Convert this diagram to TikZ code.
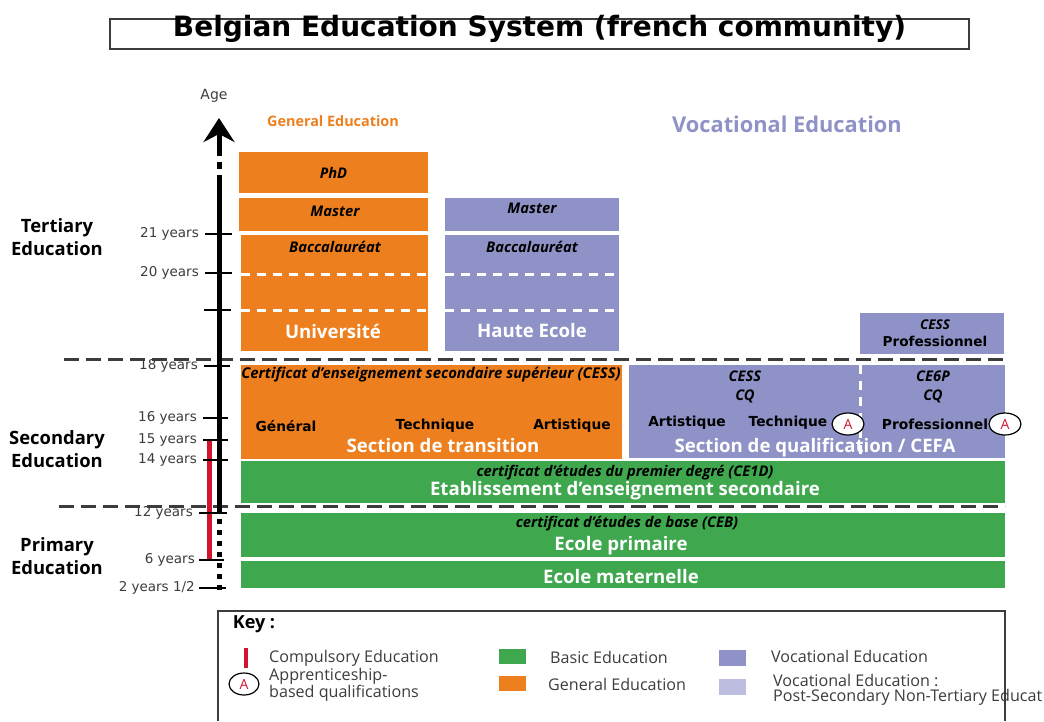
\documentclass[tikz,border=0pt]{standalone}
\usepackage{fontspec}
\setmainfont{Open Sans}
\newfontfamily\widefont{DejaVu Sans}
\usetikzlibrary{arrows.meta,shapes.geometric}

\definecolor{orangeEd}{HTML}{EE7F1E}
\definecolor{purpleEd}{HTML}{8F92C6}
\definecolor{lightEd}{HTML}{BDBDE0}
\definecolor{greenEd}{HTML}{3FA84F}
\definecolor{redEd}{HTML}{D3142E}
\definecolor{greyEd}{HTML}{3C3C3C}

\tikzset{
  box/.style={inner sep=0pt, outer sep=0pt},
  orangebox/.style={box, fill=orangeEd},
  purplebox/.style={box, fill=purpleEd},
  greenbox/.style={box, fill=greenEd},
  years/.style={inner sep=0pt, anchor=east, text=greyEd, font=\widefont\fontsize{13.5}{15}\selectfont},
  heading/.style={inner sep=0pt, align=center, font=\bfseries\fontsize{18.4}{23}\selectfont},
  diploma/.style={inner sep=0pt, align=center, font=\bfseries\itshape\fontsize{14.7}{19}\selectfont},
  branch/.style={inner sep=0pt, font=\widefont\bfseries\fontsize{13.8}{16}\selectfont},
  section/.style={inner sep=0pt, text=white, font=\bfseries\fontsize{18.6}{20}\selectfont},
  apprentice/.style={draw=black, line width=1.2pt, fill=white, ellipse, inner sep=0pt, minimum width=32, minimum height=22, text=redEd, font=\fontsize{14}{16}\selectfont},
  keytext/.style={inner sep=0pt, anchor=west, align=left, text=greyEd, font=\fontsize{16.1}{15}\selectfont},
  tickline/.style={line width=2.5pt, shorten <=6pt},
  divider/.style={greyEd, line width=3pt, dash pattern=on 15pt off 7pt},
  whitedash/.style={white, line width=3pt, dash pattern=on 9pt off 7pt},
}

\begin{document}
\begin{tikzpicture}[x=1pt, y=-1pt]
\useasboundingbox (0,0) rectangle (1044,721);

\node[draw=greyEd, line width=1.5pt, box, minimum width=859, minimum height=30] (title) at (539.5,34) {};
\node[inner sep=0pt, font=\widefont\bfseries\fontsize{28}{32}\selectfont] (titlelab) at (539.5,29) {Belgian Education System (french community)};

% left column
\node[heading] (tertiary) at (57,237) {Tertiary\\Education};
\node[heading] (secondary) at (57,449) {Secondary\\Education};
\node[heading] (primary) at (57,556) {Primary\\Education};
\node[inner sep=0pt, text=greyEd, font=\widefont\fontsize{14}{16}\selectfont] (age) at (214,96) {Age};
\node[inner sep=0pt, text=orangeEd, font=\bfseries\fontsize{14.4}{17}\selectfont] (general) at (333,121) {General Education};
\node[inner sep=0pt, text=purpleEd, font=\bfseries\fontsize{21.8}{24}\selectfont] (vocational) at (787,124) {Vocational Education};

% general education
\node[orangebox, minimum width=189, minimum height=41, diploma] (phd) at (333.5,172.5) {PhD};
\node[orangebox, minimum width=189, minimum height=33] (master) at (333.5,214.5) {};
\node[diploma] (masterlab) at (335,211) {Master};
\node[orangebox, minimum width=187, minimum height=116] (univ) at (334.5,293) {};
\node[diploma] (bac) at (335,247) {Baccalauréat};
\node[section] (univlab) at (333,331) {Université};

% haute ecole
\node[purplebox, minimum width=174, minimum height=33] (master2) at (532,214.5) {};
\node[diploma] (master2lab) at (532,208) {Master};
\node[purplebox, minimum width=174, minimum height=116] (he) at (532,293) {};
\node[diploma] (bac2) at (532,247) {Baccalauréat};
\node[section] (helab) at (532,331) {Haute Ecole};

\coordinate (ua) at (241,274);
\coordinate (ub) at (428,274);
\coordinate (uc) at (241,310);
\coordinate (ud) at (428,310);
\coordinate (ha) at (445,274);
\coordinate (hb) at (619,274);
\coordinate (hc) at (445,310);
\coordinate (hd) at (619,310);
\draw[whitedash] (ua) -- (ub);
\draw[whitedash] (uc) -- (ud);
\draw[whitedash] (ha) -- (hb);
\draw[whitedash] (hc) -- (hd);

% secondary
\node[purplebox, minimum width=144, minimum height=41] (post) at (932,333.5) {};
\node[diploma, font=\bfseries\itshape\fontsize{13.5}{15}\selectfont] (postlab) at (935,325) {CESS};
\node[branch, font=\widefont\bfseries\fontsize{13.6}{16}\selectfont] (postprof) at (935,341) {Professionnel};

\node[orangebox, minimum width=381, minimum height=94] (trans) at (431.5,412) {};
\node[diploma, font=\bfseries\itshape\fontsize{14.9}{17}\selectfont] (cess) at (431,375) {Certificat d'enseignement secondaire supérieur (CESS)};
\node[branch] (gen) at (286,426) {Général};
\node[branch] (tech) at (435,426) {Technique};
\node[branch] (art) at (572,426) {Artistique};
\node[section] (translab) at (443,446) {Section de transition};

\node[purplebox, minimum width=376, minimum height=93] (qual) at (817,411.5) {};
\node[diploma] (cessb) at (745,386.5) {CESS\\CQ};
\node[diploma] (ce6p) at (933,386.5) {CE6P\\CQ};
\node[branch] (art2) at (687,423) {Artistique};
\node[branch] (tech2) at (788,423) {Technique};
\node[branch] (prof) at (935,424) {Professionnel};
\node[section] (quallab) at (815,448) {Section de qualification / CEFA};
\coordinate (qa) at (860,365);
\coordinate (qb) at (860,458);
\draw[whitedash] (qa) -- (qb);
\node[apprentice] (appa) at (848,424) {A};
\node[apprentice] (appb) at (1005,424) {A};

\node[greenbox, minimum width=764, minimum height=42] (ce1d) at (623,482) {};
\node[diploma] (ce1dlab) at (625,473) {certificat d'études du premier degré (CE1D)};
\node[section] (ce1dsec) at (625,491) {Etablissement d'enseignement secondaire};

% primary
\node[greenbox, minimum width=764, minimum height=44] (ceb) at (623,535) {};
\node[diploma] (ceblab) at (627,524) {certificat d'études de base (CEB)};
\node[section] (ecprim) at (621,546) {Ecole primaire};
\node[greenbox, minimum width=764, minimum height=27] (mat) at (623,574.5) {};
\node[section] (ecmat) at (621,577) {Ecole maternelle};

% dividers
\coordinate (da) at (64,359);
\coordinate (db) at (1005,359);
\coordinate (dc) at (59,506);
\coordinate (dd) at (1005,506);
\draw[divider] (da) -- (db);
\draw[divider] (dc) -- (dd);

% compulsory bar
\coordinate (ra) at (209,441);
\coordinate (rb) at (209,561);
\draw[redEd, line width=5pt] (ra) -- (rb);

% age axis
\coordinate (axa) at (219,590);
\coordinate (axb) at (219,513);
\coordinate (axc) at (219,175);
\coordinate (axd) at (219,169);
\coordinate (axe) at (219,162);
\coordinate (axf) at (219,156);
\coordinate (axg) at (219,118);
\draw[line width=5pt, dash pattern=on 5pt off 6pt] (axa) -- (axb);
\draw[line width=5pt] (axb) -- (axc);
\draw[line width=5pt] (axd) -- (axe);
\draw[line width=5pt, -{Stealth[length=24pt, width=31pt, inset=8pt]}] (axf) -- (axg);

\node[years] (y21) at (199,234) {21 years};
\node[years] (y20) at (199,273) {20 years};
\node[years] (y19) at (198,310) {};
\node[years] (y18) at (198,366) {18 years};
\node[years] (y16) at (197,418) {16 years};
\node[years] (y15) at (197,440) {15 years};
\node[years] (y14) at (197,460) {14 years};
\node[years] (y12) at (193,513) {12 years};
\node[years] (y6) at (195,560) {6 years};
\node[years] (y2) at (195,588) {2 years 1/2};
\coordinate (t21) at (232,234);
\coordinate (t20) at (232,273);
\coordinate (t19) at (231,310);
\coordinate (t18) at (230,366);
\coordinate (t16) at (228,418);
\coordinate (t15) at (228,440);
\coordinate (t14) at (228,460);
\coordinate (t12) at (227,513);
\coordinate (t6) at (224,560);
\coordinate (t2) at (226,588);
\draw[tickline] (y21.east) -- (t21);
\draw[tickline] (y20.east) -- (t20);
\draw[tickline] (y19.east) -- (t19);
\draw[tickline] (y18.east) -- (t18);
\draw[tickline] (y16.east) -- (t16);
\draw[tickline] (y15.east) -- (t15);
\draw[tickline] (y14.east) -- (t14);
\draw[tickline] (y12.east) -- (t12);
\draw[tickline, shorten <=4pt] (y6.east) -- (t6);
\draw[tickline, shorten <=4pt] (y2.east) -- (t2);

% key
\coordinate (ka) at (218,721);
\coordinate (kb) at (218,611);
\coordinate (kc) at (1005,611);
\coordinate (kd) at (1005,721);
\draw[greyEd, line width=1.5pt] (ka) -- (kb) -- (kc) -- (kd);
\node[inner sep=0pt, font=\bfseries\fontsize{18}{20}\selectfont] (key) at (254,624) {Key :};

\coordinate (ke) at (246,648);
\coordinate (kf) at (246,668);
\draw[redEd, line width=4pt] (ke) -- (kf);
\node[keytext] (kcomp) at (269,658) {Compulsory Education};
\node[apprentice, minimum width=30, minimum height=22] (kapp) at (244,684) {A};
\node[keytext] (kapptext) at (269,684.5) {Apprenticeship-\\based qualifications};

\node[greenbox, minimum width=27, minimum height=15] (kgreen) at (512.5,656.5) {};
\node[keytext] (kbasic) at (550,657) {Basic Education};
\node[orangebox, minimum width=27, minimum height=15] (korange) at (512.5,683.5) {};
\node[keytext] (kgen) at (548,684) {General Education};
\node[purplebox, minimum width=27, minimum height=16] (kpurple) at (732.5,658) {};
\node[keytext] (kvoc) at (771,656) {Vocational Education};
\node[box, fill=lightEd, minimum width=27, minimum height=16] (klight) at (732.5,687) {};
\node[keytext] (kpost) at (773,689.5) {Vocational Education :\\Post-Secondary Non-Tertiary Educat};
\end{tikzpicture}
\end{document}
